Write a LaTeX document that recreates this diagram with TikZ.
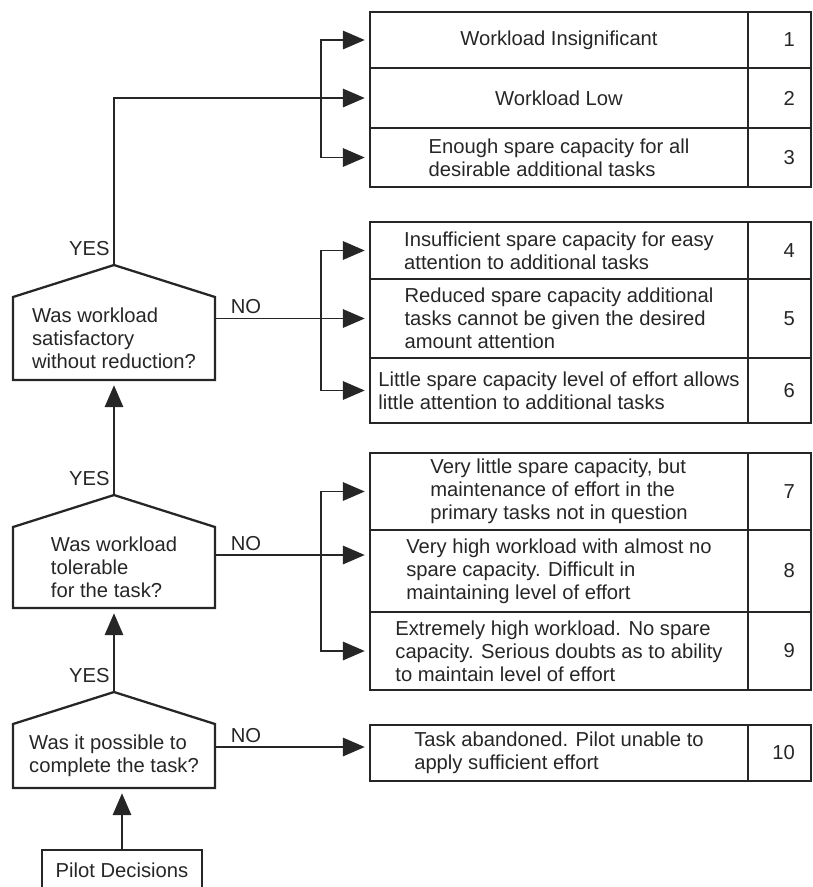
\documentclass[tikz,border=0pt]{standalone}
\usepackage{fontspec}
\setmainfont{Liberation Sans}
\usepackage{tikz}
\usetikzlibrary{
    positioning,
    arrows.meta
}
\tikzset{
    >={Triangle[length=12.5pt,width=10.5pt]},
    every node/.style={
        font=\fontsize{11.5pt}{13pt}\selectfont,
        text=black!85
    }
}

\begin{document}
\begin{tikzpicture}[
    x=0.02cm, y=-0.02cm,
    rating/.style={draw=black!85, line width=1.3pt, outer sep=0pt,
        minimum width=7.56cm, inner xsep=2pt, inner ysep=1pt, align=left},
    score/.style={draw=black!85, line width=1.3pt, outer sep=0pt,
        minimum width=1.26cm, text width=0.62cm, inner xsep=0.32cm,
        inner ysep=1pt, align=right},
    decision/.style={outer sep=0pt, minimum width=4.04cm, inner sep=2pt, align=left},
    source/.style={draw=black!85, line width=1.3pt, outer sep=0pt,
        minimum width=3.2cm, minimum height=0.8cm},
    link/.style={->, draw=black!85, line width=1.1pt, shorten >=3pt},
    answer/.style={inner sep=2pt}
]
    \useasboundingbox (0,0) rectangle (813,887);

    % Ratings
    \node[rating, minimum height=1.12cm] (b1)  at (559,40)    {Workload Insignificant};
    \node[rating, minimum height=1.20cm] (b2)  at (559,98)    {Workload Low};
    \node[rating, minimum height=1.18cm] (b3)  at (559,157.5) {Enough spare capacity for all\\desirable additional tasks};
    \node[rating, minimum height=1.14cm] (b4)  at (559,250.5) {Insufficient spare capacity for easy\\attention to additional tasks};
    \node[rating, minimum height=1.58cm] (b5)  at (559,318.5) {Reduced spare capacity additional\\tasks cannot be given the desired\\amount attention};
    \node[rating, minimum height=1.30cm] (b6)  at (559,390.5) {Little spare capacity level of effort allows\\little attention to additional tasks};
    \node[rating, minimum height=1.54cm] (b7)  at (559,491.5) {Very little spare capacity, but\\maintenance of effort in the\\primary tasks not in question};
    \node[rating, minimum height=1.64cm] (b8)  at (559,571)   {Very high workload with almost no\\spare capacity. Difficult in\\maintaining level of effort};
    \node[rating, minimum height=1.56cm] (b9)  at (559,651)   {Extremely high workload. No spare\\capacity. Serious doubts as to ability\\to maintain level of effort};
    \node[rating, minimum height=1.12cm] (b10) at (559,753)   {Task abandoned. Pilot unable to\\apply sufficient effort};

    % Scores
    \node[score, minimum height=1.12cm, right=0pt of b1]  (n1)  {1};
    \node[score, minimum height=1.20cm, right=0pt of b2]  (n2)  {2};
    \node[score, minimum height=1.18cm, right=0pt of b3]  (n3)  {3};
    \node[score, minimum height=1.14cm, right=0pt of b4]  (n4)  {4};
    \node[score, minimum height=1.58cm, right=0pt of b5]  (n5)  {5};
    \node[score, minimum height=1.30cm, right=0pt of b6]  (n6)  {6};
    \node[score, minimum height=1.54cm, right=0pt of b7]  (n7)  {7};
    \node[score, minimum height=1.64cm, right=0pt of b8]  (n8)  {8};
    \node[score, minimum height=1.56cm, right=0pt of b9]  (n9)  {9};
    \node[score, minimum height=1.12cm, right=0pt of b10] (n10) {10};

    % Decisions
    \node[decision, minimum height=1.66cm] (d1) at (114,338.5) {Was workload\\satisfactory\\without reduction?};
    \node[decision, minimum height=1.62cm] (d2) at (114,567.5) {Was workload\\tolerable\\for the task?};
    \node[decision, minimum height=1.28cm] (d3) at (114,756)   {Was it possible to\\complete the task?};
    \node[source] (pilot) at (122,870) {Pilot Decisions};

    \foreach \d in {d1,d2,d3}{
        \coordinate (\d-top) at ([yshift=0.64cm]\d.north);
        \draw[draw=black!85, line width=1.3pt]
            (\d.north west) -- (\d-top) -- (\d.north east)
            -- (\d.south east) -- (\d.south west) -- cycle;
    }

    % Junctions
    \coordinate (j1) at (321,98);
    \coordinate (j2) at (321,318.5);
    \coordinate (j3) at (321,555);
    \coordinate (j4) at (321,747);

    % YES branches
    \draw[link] (pilot) -- (pilot |- d3.south);
    \draw[link] (d3-top) -- node[answer, pos=0, anchor=south east, yshift=3pt] (yes3) {YES} (d2.south);
    \draw[link] (d2-top) -- node[answer, pos=0, anchor=south east, yshift=3pt] (yes2) {YES} (d1.south);
    \draw[link] (d1-top) |- node[answer, pos=0, anchor=south east, yshift=3pt] (yes1) {YES} (b2.west);
    \draw[link] (j1) |- (b1.west);
    \draw[link] (j1) |- (b3.west);

    % NO branches
    \draw[link] (d1.east |- j2) -- node[answer, pos=0.2, above] (no1) {NO} (b5.west |- j2);
    \draw[link] (j2) |- (b4.west);
    \draw[link] (j2) |- (b6.west);

    \draw[link] (d2.east |- j3) -- node[answer, pos=0.2, above] (no2) {NO} (b8.west |- j3);
    \draw[link] (j3) |- (b7.west);
    \draw[link] (j3) |- (b9.west);

    \draw[link] (d3.east |- j4) -- node[answer, pos=0.2, above] (no3) {NO} (b10.west |- j4);

\end{tikzpicture}
\end{document}
